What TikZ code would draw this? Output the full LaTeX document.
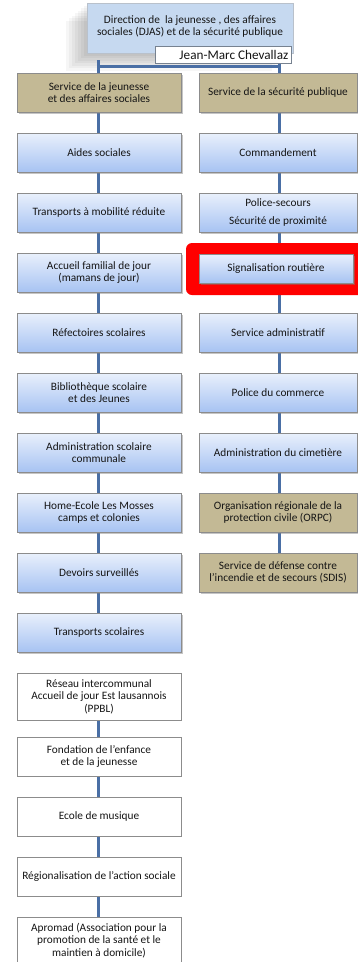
\documentclass[tikz,border=0pt]{standalone}
\usepackage{fontspec}
\setmainfont{Carlito}
\usetikzlibrary{shadows}
\definecolor{conn}{HTML}{4A6FA5}
\definecolor{tanfill}{HTML}{C3B995}
\definecolor{boxline}{HTML}{8C8C8C}
\definecolor{bluetop}{HTML}{E9F0FC}
\definecolor{bluebot}{HTML}{A7C3F2}
\definecolor{headfill}{HTML}{C6D9F0}
\definecolor{txt}{HTML}{151515}
\tikzset{
  base/.style={draw=boxline, line width=0.7pt, minimum height=39pt, align=center,
    font=\fontsize{11.3}{12.6}\selectfont, text=txt, inner sep=0pt},
  lbox/.style={base, minimum width=164pt},
  rbox/.style={base, minimum width=158pt},
  bluebox/.style={top color=bluetop, bottom color=bluebot,
    drop shadow={shadow xshift=1.5pt, shadow yshift=-1.5pt, opacity=0.45}},
  tanbox/.style={fill=tanfill,
    drop shadow={shadow xshift=1.5pt, shadow yshift=-1.5pt, opacity=0.45}},
  whitebox/.style={fill=white},
  link/.style={draw=conn, line width=3pt},
}
\begin{document}
\begin{tikzpicture}[x=1pt,y=-1pt]
\useasboundingbox (0,0) rectangle (357,962);
\fill[white] (0,0) rectangle (357,962);
% soft shadow of the header
\foreach \i in {1,...,7} {
  \fill[black, opacity=0.035] (87-3*\i,3+2.5*\i) rectangle (293-3*\i,53+2.5*\i);
}
% connectors (drawn first, behind boxes)
\coordinate (hl) at (98,66);
\coordinate (hr) at (279,66);
\coordinate (lend) at (98,640);
\coordinate (rend) at (279,580);
\draw[link] (98,60) -- (hl) -- (hr) -- (279,60);
\draw[link] (hl) -- (lend);
\draw[link] (hr) -- (rend);
\draw[link] (98,700) -- (98,930);
% header
\node[draw=headfill!70!black!60, line width=0.6pt, fill=headfill, minimum width=206pt, minimum height=50pt,
  anchor=north] (head) at (190,3) {};
\node[font=\fontsize{11.3}{12.7}\selectfont, text=txt, align=center, inner sep=0pt] (headt) at (190,26.5)
  {Direction de~ la jeunesse , des affaires\\sociales (DJAS) et de la sécurité publique};
\node[draw=headfill!60!black, line width=0.7pt, fill=white, minimum width=136pt, minimum height=17pt,
  anchor=north west, inner sep=0pt] (name) at (155,46) {};
\node[font=\fontsize{13.2}{14}\selectfont, text=txt, anchor=east, inner sep=0pt] (namet) at (288.5,54.5) {Jean-Marc Chevallaz};
% left column
\node[lbox, tanbox] (l1) at (99,92.5) {Service de la jeunesse\\et des affaires sociales};
\node[lbox, bluebox] (l2) at (99,152.5) {Aides sociales};
\node[lbox, bluebox] (l3) at (99,212.5) {Transports à mobilité réduite};
\node[lbox, bluebox] (l4) at (99,272.5) {Accueil familial de jour\\(mamans de jour)};
\node[lbox, bluebox] (l5) at (99,332.5) {Réfectoires scolaires};
\node[lbox, bluebox] (l6) at (99,392.5) {Bibliothèque scolaire\\et des Jeunes};
\node[lbox, bluebox] (l7) at (99,452.5) {Administration scolaire\\communale};
\node[lbox, bluebox] (l8) at (99,512.5) {Home-Ecole Les Mosses\\camps et colonies};
\node[lbox, bluebox] (l9) at (99,572.5) {Devoirs surveillés};
\node[lbox, bluebox] (l10) at (99,632.5) {Transports scolaires};
\node[lbox, whitebox, minimum height=47pt] (w1) at (99,696.5) {Réseau intercommunal\\Accueil de jour Est lausannois\\(PPBL)};
\node[lbox, whitebox] (w2) at (99,756.5) {Fondation de l'enfance\\et de la jeunesse};
\node[lbox, whitebox] (w3) at (99,816.5) {Ecole de musique};
\node[lbox, whitebox] (w4) at (99,876.5) {Régionalisation de l'action sociale};
\node[lbox, whitebox, minimum height=47pt] (w5) at (99,940.5) {Apromad (Association pour la\\promotion de la santé et le\\maintien à domicile)};
% right column
\fill[red, rounded corners=6pt] (186,243) rectangle (364,295);
\node[rbox, tanbox] (r1) at (278,92.5) {Service de la sécurité publique};
\node[rbox, bluebox] (r2) at (278,152.5) {Commandement};
\node[rbox, bluebox] (r3) at (278,212.5) {Police-secours\\[5.5pt]Sécurité de proximité};
\node[base, minimum width=154pt, minimum height=29pt, bluebox] (r4) at (276,268.5) {Signalisation routière};
\node[rbox, bluebox] (r5) at (278,332.5) {Service administratif};
\node[rbox, bluebox] (r6) at (278,392.5) {Police du commerce};
\node[rbox, bluebox] (r7) at (278,452.5) {Administration du cimetière};
\node[rbox, tanbox] (r8) at (278,512.5) {Organisation régionale de la\\protection civile (ORPC)};
\node[rbox, tanbox] (r9) at (278,572.5) {Service de défense contre\\l'incendie et de secours (SDIS)};
\end{tikzpicture}
\end{document}
